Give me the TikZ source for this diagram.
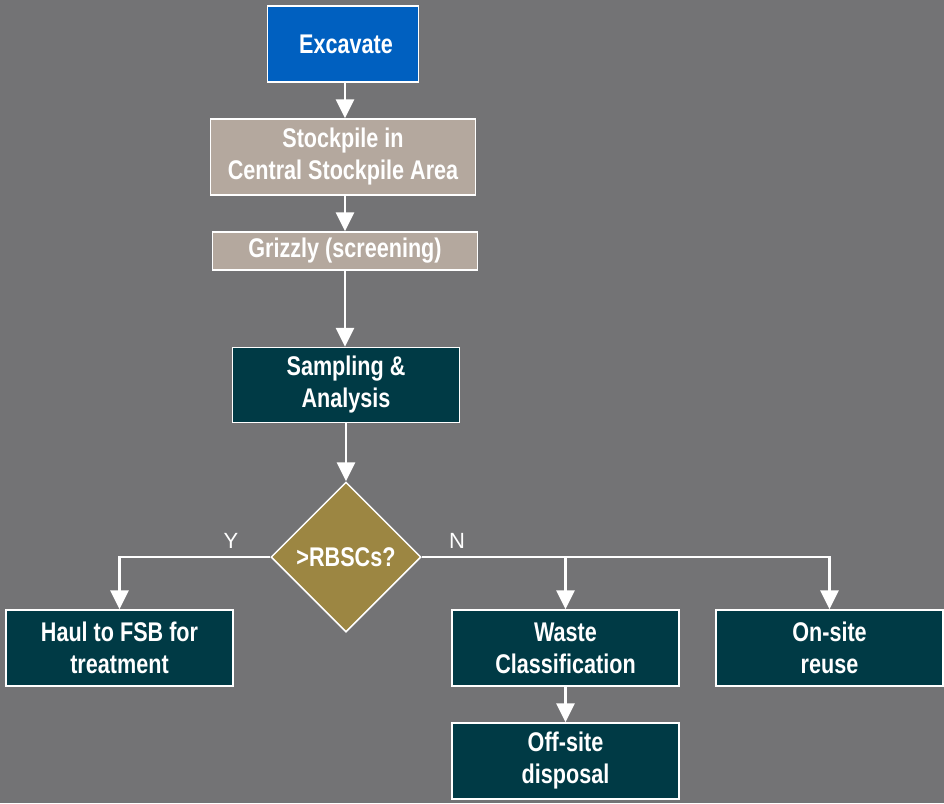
\documentclass[tikz,border=0pt]{standalone}
\usepackage{fontspec}
\setmainfont{Liberation Sans}
\newfontfamily\boxfont{Liberation Sans}[FakeStretch=0.8]
\usetikzlibrary{arrows.meta}
\usetikzlibrary{shapes.geometric}
\definecolor{bggray}{RGB}{115,115,117}
\definecolor{exblue}{RGB}{0,96,192}
\definecolor{taupe}{RGB}{180,168,158}
\definecolor{darkteal}{RGB}{0,58,69}
\definecolor{olive}{RGB}{156,134,66}

\begin{document}
\begin{tikzpicture}[x=1pt, y=-1pt,
  box/.style={draw=white, line width=1.5pt, inner sep=0pt, align=center,
    text=white, font=\boxfont\bfseries\fontsize{27}{32}\selectfont},
  arr/.style={draw=white, line width=2.8pt, -{Triangle[width=18pt,length=19pt]}},
  yn/.style={text=white, font=\fontsize{22}{26}\selectfont}]

\fill[bggray] (0,0) rectangle (944,803);

% main column
\node[box, fill=exblue, minimum width=151pt, minimum height=76pt] (exc) at (343,44) {\ Excavate};
\node[box, fill=taupe, minimum width=265pt, minimum height=76pt] (stock) at (343,157) {Stockpile in\\Central Stockpile Area};
\node[box, fill=taupe, minimum width=265pt, minimum height=38pt] (griz) at (345,251) {Grizzly (screening)};
\node[box, fill=darkteal, minimum width=227pt, minimum height=75pt] (samp) at (346,385) {Sampling \&\\Analysis};
\node[box, fill=olive, diamond, minimum width=150pt, minimum height=150pt] (rbsc) at (346,557) {>RBSCs?};

% outcomes
\node[box, fill=darkteal, minimum width=227pt, minimum height=76pt] (haul) at (119.5,648) {Haul to FSB for\\treatment};
\node[box, fill=darkteal, minimum width=227pt, minimum height=76pt] (waste) at (565.5,648) {Waste\\Classification};
\node[box, fill=darkteal, minimum width=227pt, minimum height=76pt] (reuse) at (829.5,648) {On-site\\reuse};
\node[box, fill=darkteal, minimum width=227pt, minimum height=76pt] (offs) at (565.5,761) {Off-site\\disposal};

\node[yn] (ylab) at (231,541) {Y};
\node[yn] (nlab) at (457,541) {N};

\draw[arr] (exc.south -| griz) -- (stock.north -| griz);
\draw[arr] (stock.south -| griz) -- (griz.north);
\draw[arr] (griz.south) -- (samp.north -| griz);
\draw[arr] (samp.south -| rbsc) -- (rbsc.north);
\draw[arr] (rbsc.west) -| (haul.north);
\draw[arr] (rbsc.east) -| (waste.north);
\draw[arr] (rbsc.east) -| (reuse.north);
\draw[arr] (waste.south) -- (offs.north);

\end{tikzpicture}
\end{document}
